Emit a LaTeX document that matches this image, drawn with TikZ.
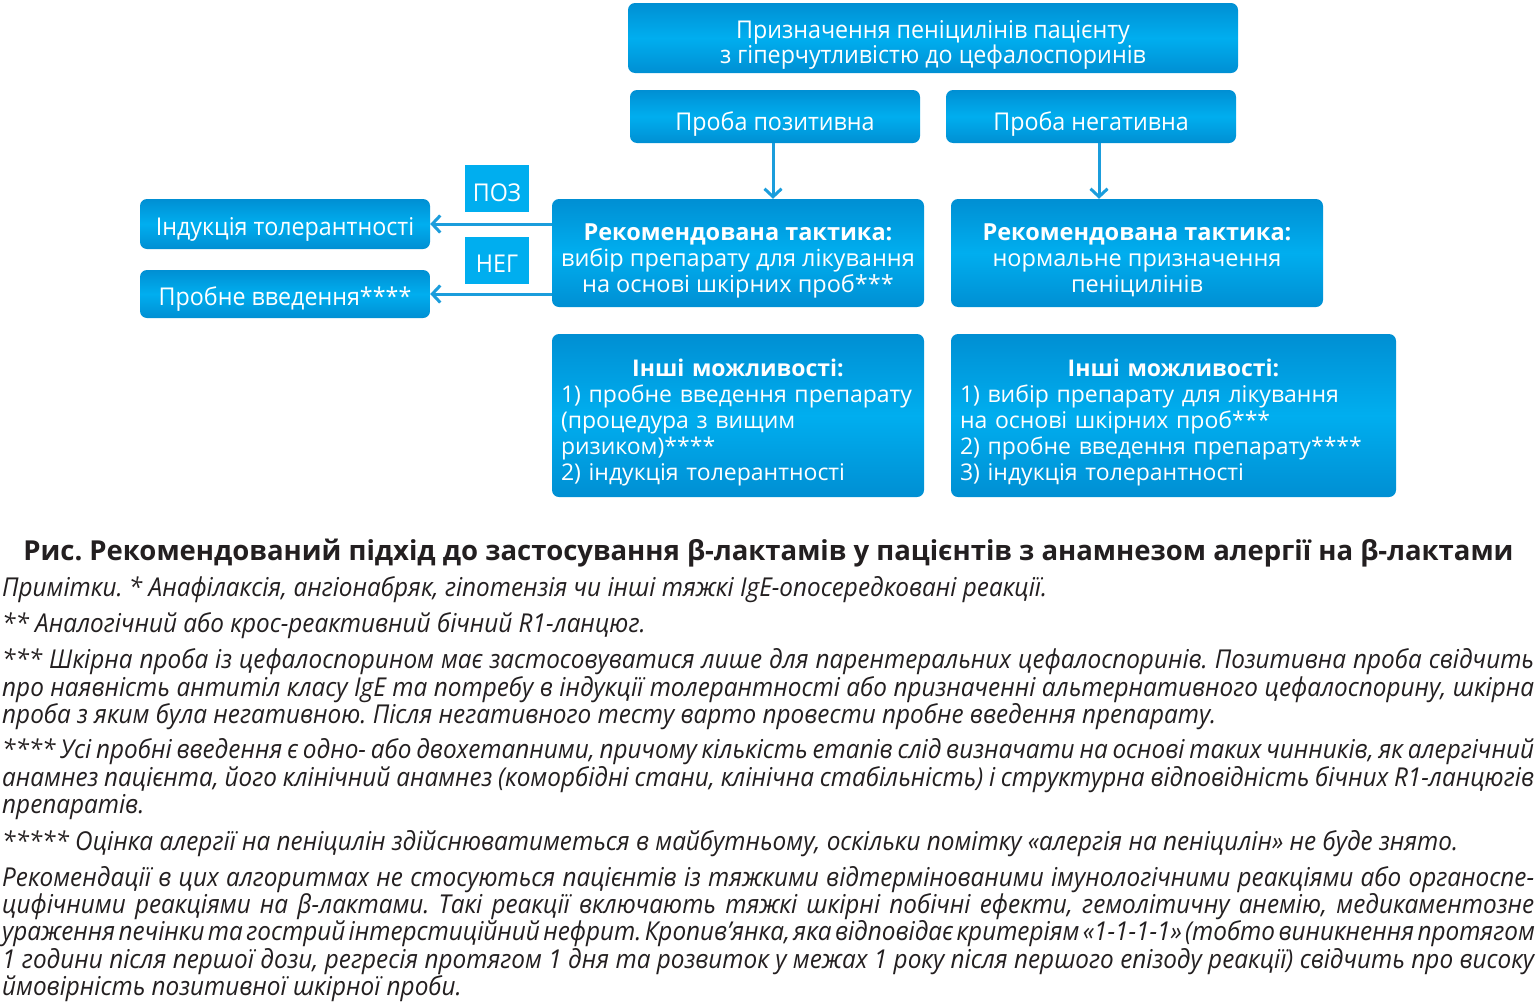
\documentclass[tikz,border=0pt]{standalone}
\usepackage{fontspec}
\setmainfont{Open Sans}
\newfontfamily\boxfont{Open Sans}
\newfontfamily\condfont[FakeStretch=0.95]{Open Sans}
\newfontfamily\notefont[FakeStretch=0.935]{Open Sans}
\usetikzlibrary{arrows.meta}
\definecolor{boxdark}{RGB}{0,143,211}
\definecolor{boxmid}{RGB}{0,174,239}
\definecolor{arrcol}{RGB}{27,157,220}
\definecolor{labcol}{RGB}{0,174,239}
\definecolor{ink}{RGB}{35,31,32}
\tikzset{
  bluebox/.style={rounded corners=7pt, top color=boxdark, bottom color=boxdark, middle color=boxmid, inner sep=0pt},
  boxtext/.style={text=white, inner sep=0pt, align=center, font=\boxfont\fontsize{23.5}{26}\selectfont},
  othertext/.style={text=white, inner sep=0pt, align=left, font=\boxfont\fontsize{23}{26}\selectfont},
  condtext/.style={text=white, inner sep=0pt, align=center, font=\condfont\fontsize{24.5}{25.5}\selectfont},
  labbox/.style={fill=labcol, inner sep=0pt, minimum width=64pt, minimum height=47pt},
  arr/.style={draw=arrcol, line width=3pt, -{Straight Barb[length=8pt,width=17pt,line width=3pt]}},
  noteline/.style={anchor=base west, inner sep=0pt, text=ink, font=\notefont\itshape\fontsize{26}{27}\selectfont},
}
\newcommand{\jl}[1]{\hbox to 1532pt{\spaceskip=0.26em plus 0.3em minus 0.13em\relax #1}}
\begin{document}
\frenchspacing
\begin{tikzpicture}[x=1pt,y=-1pt]
\useasboundingbox (0,0) rectangle (1538,1001);
% boxes
\node[bluebox, minimum width=610pt, minimum height=70pt] (top) at (933,38) {};
\node[condtext] (topt) at ([yshift=-7pt]top.center) {Призначення пеніцилінів пацієнту\\з гіперчутливістю до цефалоспоринів};
\node[bluebox, minimum width=290pt, minimum height=53pt] (pp) at (775,116.5) {};
\node[condtext] (ppt) at ([yshift=-8pt]pp.center) {Проба позитивна};
\node[bluebox, minimum width=290pt, minimum height=53pt] (pn) at (1091,116.5) {};
\node[condtext] (pnt) at ([yshift=-8pt]pn.center) {Проба негативна};
\node[bluebox, minimum width=372pt, minimum height=108pt] (rl) at (738,253) {};
\node[boxtext] (rlt) at ([yshift=-7.5pt]rl.center) {{\bfseries Рекомендована тактика:}\\вибір препарату для лікування\\на основі шкірних проб***};
\node[bluebox, minimum width=372pt, minimum height=108pt] (rr) at (1137,253) {};
\node[boxtext] (rrt) at ([yshift=-7.5pt]rr.center) {{\bfseries Рекомендована тактика:}\\нормальне призначення\\пеніцилінів};
\node[bluebox, minimum width=372pt, minimum height=163pt] (il) at (738,415.5) {};
\node[othertext, text width=354pt] (ilt) at ([yshift=-7pt]il.center)
  {\makebox[354pt]{\bfseries Інші можливості:}\\1) пробне введення препарату\\(процедура з вищим\\ризиком)****\\2) індукція толерантності};
\node[bluebox, minimum width=445pt, minimum height=163pt] (ir) at (1173.5,415.5) {};
\node[othertext, text width=427pt] (irt) at ([yshift=-7pt]ir.center)
  {\makebox[427pt]{\bfseries Інші можливості:}\\1) вибір препарату для лікування\\на основі шкірних проб***\\2) пробне введення препарату****\\3) індукція толерантності};
\node[bluebox, minimum width=290pt, minimum height=50pt] (ind) at (285,224) {};
\node[condtext] (indt) at ([yshift=-5.5pt]ind.center) {Індукція толерантності};
\node[bluebox, minimum width=290pt, minimum height=48pt] (prob) at (285,294) {};
\node[condtext] (probt) at ([yshift=-5.5pt]prob.center) {Пробне введення****};
\node[labbox] (poz) at (497,188.5) {};
\node[condtext] (pozt) at ([yshift=-4pt]poz.center) {ПОЗ};
\node[labbox] (neg) at (497,260.5) {};
\node[condtext] (negt) at ([yshift=-3pt]neg.center) {НЕГ};
% connectors
\draw[arr] ([xshift=-2pt]pp.south) -- ([xshift=-2pt]pp.south |- rl.north);
\draw[arr] ([xshift=8pt]pn.south) -- ([xshift=8pt]pn.south |- rr.north);
\draw[arr] (rl.west |- ind.east) -- (ind.east);
\draw[arr] (rl.west |- prob.east) -- (prob.east);
% caption
\node[anchor=base, inner sep=0pt, text=ink, font=\boxfont\bfseries\fontsize{27.5}{30}\selectfont] (cap) at (768.5,560)
  {Рис. Рекомендований підхід до застосування β-лактамів у пацієнтів з анамнезом алергії на β-лактами};
% notes
\node[noteline] (n1) at (2,596) {Примітки. * Анафілаксія, ангіонабряк, гіпотензія чи інші тяжкі IgE-опосередковані реакції.};
\node[noteline] (n2) at (2,632) {** Аналогічний або крос-реактивний бічний R1-ланцюг.};
\node[noteline] (n3) at (2,668) {\jl{*** Шкірна проба із цефалоспорином має застосовуватися лише для парентеральних цефалоспоринів. Позитивна проба свідчить}};
\node[noteline] (n4) at (2,696) {\jl{про наявність антитіл класу IgE та потребу в індукції толерантності або призначенні альтернативного цефалоспорину, шкірна}};
\node[noteline] (n5) at (2,723) {проба з яким була негативною. Після негативного тесту варто провести пробне введення препарату.};
\node[noteline] (n6) at (2,758) {\jl{**** Усі пробні введення є одно- або двохетапними, причому кількість етапів слід визначати на основі таких чинників, як алергічний}};
\node[noteline] (n7) at (2,786) {\jl{анамнез пацієнта, його клінічний анамнез (коморбідні стани, клінічна стабільність) і структурна відповідність бічних R1-ланцюгів}};
\node[noteline] (n8) at (2,813) {препаратів.};
\node[noteline] (n9) at (2,850) {***** Оцінка алергії на пеніцилін здійснюватиметься в майбутньому, оскільки помітку «алергія на пеніцилін» не буде знято.};
\node[noteline] (n10) at (2,886) {\jl{Рекомендації в цих алгоритмах не стосуються пацієнтів із тяжкими відтермінованими імунологічними реакціями або органоспе-}};
\node[noteline] (n11) at (2,913) {\jl{цифічними реакціями на β-лактами. Такі реакції включають тяжкі шкірні побічні ефекти, гемолітичну анемію, медикаментозне}};
\node[noteline] (n12) at (2,940) {\jl{ураження печінки та гострий інтерстиційний нефрит. Кропив’янка, яка відповідає критеріям «1-1-1-1» (тобто виникнення протягом}};
\node[noteline] (n13) at (2,968) {\jl{1 години після першої дози, регресія протягом 1 дня та розвиток у межах 1 року після першого епізоду реакції) свідчить про високу}};
\node[noteline] (n14) at (2,995) {ймовірність позитивної шкірної проби.};
\end{tikzpicture}
\end{document}
